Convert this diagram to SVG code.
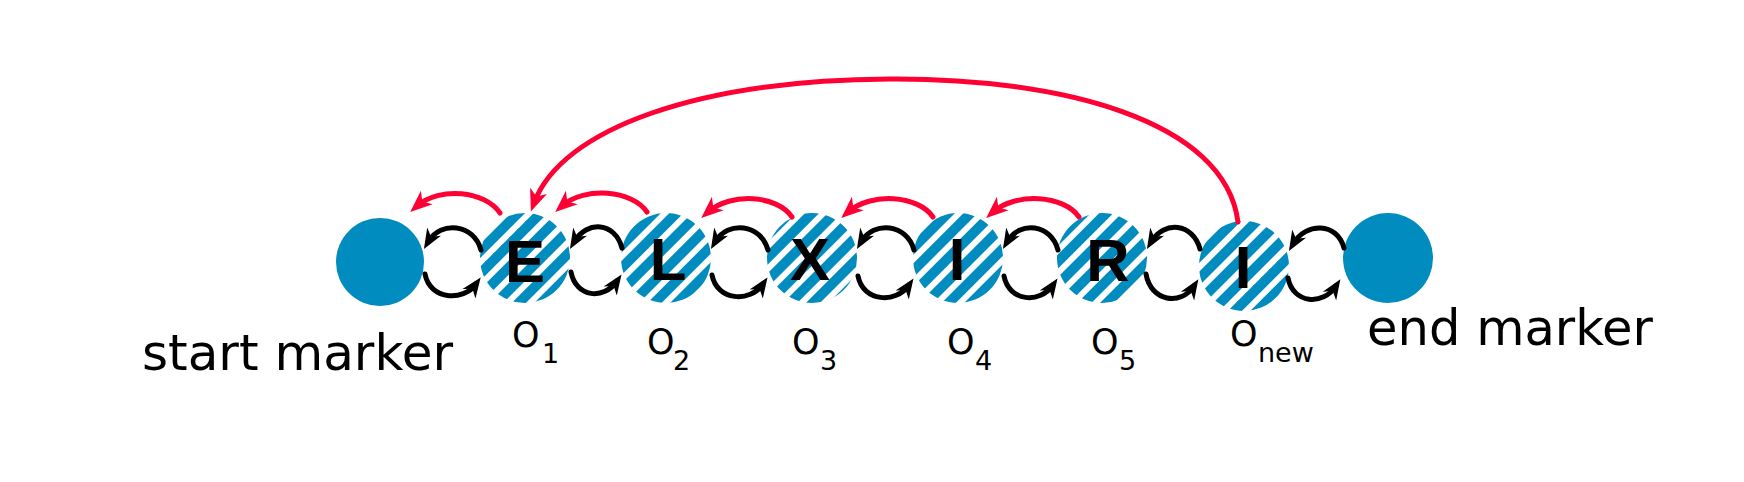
<svg xmlns="http://www.w3.org/2000/svg" width="1744" height="482" viewBox="0 0 1744 482">
<style>
.marker{fill:#008CBE}
.hn{fill:url(#hatch)}
.ltr{font-family:"Liberation Sans",Arial,sans-serif;font-weight:bold;font-size:60px;fill:#000;text-anchor:middle}
.cap{font-family:"DejaVu Sans",sans-serif;font-size:49px;fill:#000}
.o{font-family:"DejaVu Sans",sans-serif;font-size:35px;fill:#000}
.sub{font-family:"DejaVu Sans",sans-serif;font-size:27px;fill:#000}
.blk{fill:none;stroke:#000;stroke-width:5;stroke-linecap:round;marker-end:url(#ahB)}
.red{fill:none;stroke:#FF0035;stroke-width:5;stroke-linecap:round;marker-end:url(#ahR)}
</style>
<defs>
<pattern id="hatch" width="16" height="16" patternUnits="userSpaceOnUse" patternTransform="rotate(45)">
<rect width="16" height="16" fill="#fff"/>
<rect width="10" height="16" fill="#008CBE"/>
</pattern>
<marker id="ahB" viewBox="0 -9 21 18" markerWidth="21" markerHeight="18" refX="12" refY="0" orient="auto" markerUnits="userSpaceOnUse">
<path d="M0,-8 L20,0 L0,8 L6,0 Z" fill="#000"/>
</marker>
<marker id="ahR" viewBox="0 -10 23 20" markerWidth="23" markerHeight="20" refX="13" refY="0" orient="auto" markerUnits="userSpaceOnUse">
<path d="M0,-9 L22,0 L0,9 L6,0 Z" fill="#FF0035"/>
</marker>
</defs>
<rect width="1744" height="482" fill="#fff"/>

<g id="start-marker">
<circle class="marker" cx="380" cy="262" r="44"/>
<text class="cap" x="142" y="370" textLength="311" lengthAdjust="spacingAndGlyphs">start marker</text>
</g>
<g id="end-marker">
<circle class="marker" cx="1388" cy="258" r="45"/>
<text class="cap" x="1367" y="345" textLength="286" lengthAdjust="spacingAndGlyphs">end marker</text>
</g>

<g id="node-o1">
<circle class="hn" cx="525" cy="258" r="45"/>
<text class="ltr" x="525" y="282">E</text>
<text><tspan class="o" x="512" y="347">O</tspan><tspan class="sub" x="542" y="363">1</tspan></text>
</g>
<g id="node-o2">
<circle class="hn" cx="666" cy="258" r="45"/>
<text class="ltr" x="668" y="280">L</text>
<text><tspan class="o" x="647" y="354">O</tspan><tspan class="sub" x="673" y="370">2</tspan></text>
</g>
<g id="node-o3">
<circle class="hn" cx="812" cy="258" r="45"/>
<text class="ltr" x="810" y="280">X</text>
<text><tspan class="o" x="792" y="354">O</tspan><tspan class="sub" x="820" y="370">3</tspan></text>
</g>
<g id="node-o4">
<circle class="hn" cx="958" cy="258" r="45"/>
<text class="ltr" x="957" y="280">I</text>
<text><tspan class="o" x="947" y="354">O</tspan><tspan class="sub" x="975" y="370">4</tspan></text>
</g>
<g id="node-o5">
<circle class="hn" cx="1102" cy="258" r="45"/>
<text class="ltr" x="1108" y="281">R</text>
<text><tspan class="o" x="1091" y="354">O</tspan><tspan class="sub" x="1119" y="370">5</tspan></text>
</g>
<g id="node-onew">
<circle class="hn" cx="1244" cy="266" r="45"/>
<text class="ltr" x="1243" y="288">I</text>
<text><tspan class="o" x="1230" y="346">O</tspan><tspan class="sub" x="1258" y="362">new</tspan></text>
</g>

<g id="connectors">
<path class="blk" d="M481,250 C474,224 441,220 428,242"/>
<path class="blk" d="M622,248 C615,222 587,220 574,242"/>
<path class="blk" d="M768,250 C761,224 728,220 715,242"/>
<path class="blk" d="M914,250 C907,224 874,220 861,242"/>
<path class="blk" d="M1058,250 C1051,224 1020,220 1007,242"/>
<path class="blk" d="M1200,249 C1193,223 1164,220 1151,242"/>
<path class="blk" d="M1344,248 C1337,222 1306,222 1293,244"/>
<path class="blk" d="M425,274 C430,300 463,302 476,284"/>
<path class="blk" d="M571,272 C576,298 604,300 617,281"/>
<path class="blk" d="M712,275 C717,301 750,303 763,284"/>
<path class="blk" d="M858,276 C863,302 896,304 909,285"/>
<path class="blk" d="M1004,276 C1009,302 1040,304 1053,285"/>
<path class="blk" d="M1146,274 C1151,302 1181,306 1194,286"/>
<path class="blk" d="M1288,278 C1293,304 1323,306 1336,286"/>
<path class="red" d="M500,213 C485,191 440,186 417,206"/>
<path class="red" d="M647,212 C632,190 585,186 562,206"/>
<path class="red" d="M792,217 C777,195 731,192 708,212"/>
<path class="red" d="M933,217 C918,195 871,192 848,212"/>
<path class="red" d="M1079,217 C1064,195 1016,192 993,212"/>
<path class="red" d="M1238,222 C1225,120 1060,78 890,79 C700,80 562,128 534,203"/>
</g>
</svg>
